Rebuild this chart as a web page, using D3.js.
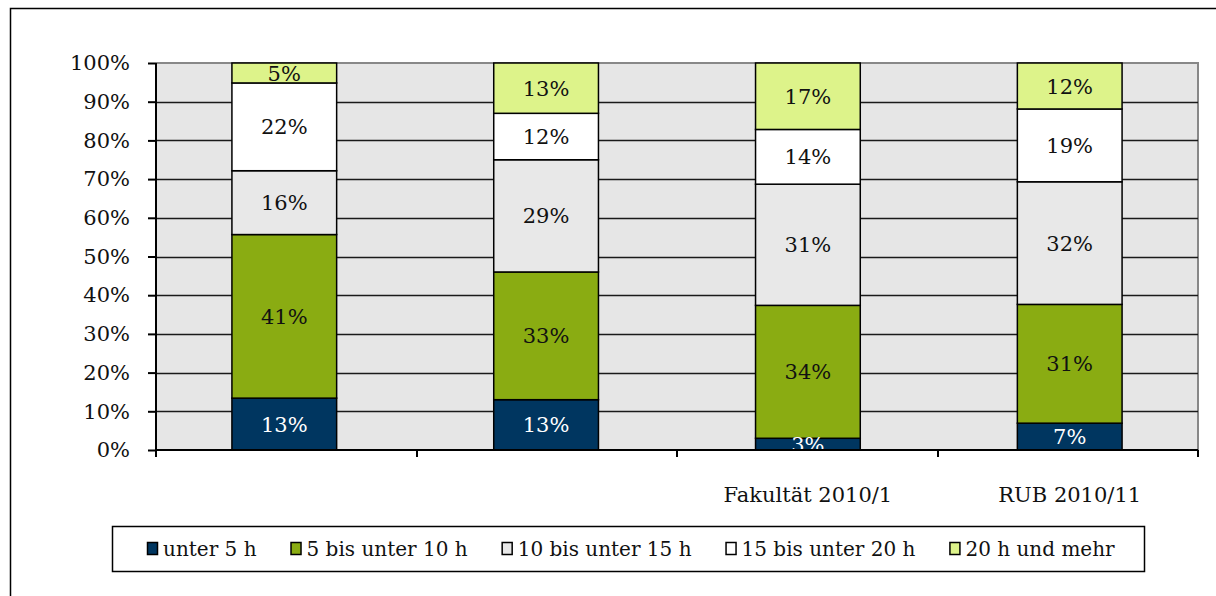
<!DOCTYPE html>
<html>
	<head>
		<script src="https://d3js.org/d3.v7.min.js"></script>
		<style type="text/css">
			body { margin: 0; background: #fff; }
			svg text { font-family: "DejaVu Serif", serif; font-size: 21px; fill: #111; }
			svg .legend text { font-size: 20px; }
		</style>
	</head>
	<body>
		<script type="text/javascript">
			var categories = ["", " ", "Fakultät 2010/1", "RUB 2010/11"];
			var seriesNames = ["unter 5 h", "5 bis unter 10 h", "10 bis unter 15 h", "15 bis unter 20 h", "20 h und mehr"];
			var seriesColors = ["#003660", "#8AAC12", "#E8E8E8", "#FFFFFF", "#DDF38A"];
			var under5 = [13, 13, 3, 7];
			var from5to10 = [41, 33, 34, 31];
			var from10to15 = [16, 29, 31, 32];
			var from15to20 = [22, 12, 14, 19];
			var over20 = [5, 13, 17, 12];
			var yTicks = [0, 0.1, 0.2, 0.3, 0.4, 0.5, 0.6, 0.7, 0.8, 0.9, 1];

			var W = 1216, H = 596;
			var plot = { left: 156, right: 1198, top: 63, bottom: 450 };

			var rows = categories.map(function (c, i) {
				return {
					cat: c,
					"unter 5 h": under5[i],
					"5 bis unter 10 h": from5to10[i],
					"10 bis unter 15 h": from10to15[i],
					"15 bis unter 20 h": from15to20[i],
					"20 h und mehr": over20[i]
				};
			});

			var stacked = d3.stack().keys(seriesNames).offset(d3.stackOffsetExpand)(rows);

			var x = d3.scaleBand().domain(categories)
				.range([plot.left, plot.right]).paddingInner(0.6).paddingOuter(0.29);
			var y = d3.scaleLinear().domain([0, 1]).range([plot.bottom, plot.top]);
			var color = d3.scaleOrdinal().domain(seriesNames).range(seriesColors);

			var svg = d3.select("body").append("svg")
				.attr("width", W).attr("height", H);

			// outer chart frame (cut off at right and bottom)
			svg.append("rect")
				.attr("x", 10.5).attr("y", 8.5)
				.attr("width", W + 20).attr("height", H + 20)
				.attr("fill", "none").attr("stroke", "#000").attr("stroke-width", 1.5);

			svg.append("clipPath").attr("id", "plotclip")
				.append("rect")
				.attr("x", plot.left).attr("y", plot.top - 2)
				.attr("width", plot.right - plot.left).attr("height", plot.bottom - plot.top + 2);

			// plot background
			svg.append("rect")
				.attr("x", plot.left).attr("y", plot.top)
				.attr("width", plot.right - plot.left).attr("height", plot.bottom - plot.top)
				.attr("fill", "#E6E6E6");
			svg.append("path")
				.attr("d", "M" + plot.left + "," + plot.top + "H" + plot.right + "V" + plot.bottom)
				.attr("fill", "none").attr("stroke", "#888").attr("stroke-width", 2);

			// gridlines
			svg.append("g").selectAll("line")
				.data(yTicks.filter(function (t) { return t > 0 && t < 1; }))
				.enter().append("line")
				.attr("x1", plot.left).attr("x2", plot.right)
				.attr("y1", function (d) { return Math.round(y(d)) + 0.5; })
				.attr("y2", function (d) { return Math.round(y(d)) + 0.5; })
				.attr("stroke", "#1a1a1a").attr("stroke-width", 1.5);

			// bars
			var layer = svg.append("g").selectAll("g")
				.data(stacked)
				.enter().append("g")
				.attr("fill", function (d) { return color(d.key); });

			layer.selectAll("rect")
				.data(function (d) { return d; })
				.enter().append("rect")
				.attr("x", function (d) { return x(d.data.cat); })
				.attr("width", x.bandwidth())
				.attr("y", function (d) { return y(d[1]); })
				.attr("height", function (d) { return y(d[0]) - y(d[1]); })
				.attr("stroke", "#000").attr("stroke-width", 1.5);

			// data labels
			var labels = svg.append("g").attr("clip-path", "url(#plotclip)");
			stacked.forEach(function (s, si) {
				labels.selectAll(".l" + si)
					.data(s)
					.enter().append("text")
					.attr("x", function (d) { return x(d.data.cat) + x.bandwidth() / 2; })
					.attr("y", function (d) { return (y(d[0]) + y(d[1])) / 2; })
					.attr("text-anchor", "middle")
					.attr("dy", "0.36em")
					.style("fill", si === 0 ? "#fff" : "#111")
					.text(function (d) { return d.data[s.key] + "%"; });
			});

			// y axis
			var yAxis = svg.append("g")
				.attr("transform", "translate(" + plot.left + ",0)")
				.call(d3.axisLeft(y).tickValues(yTicks).tickFormat(d3.format(".0%")).tickSize(8).tickPadding(18));
			yAxis.select(".domain").attr("stroke-width", 2).attr("d", "M0," + plot.top + "V" + (plot.bottom + 6));
			yAxis.selectAll(".tick line").attr("stroke-width", 2);

			// x axis
			var bounds = d3.range(categories.length + 1).map(function (i) {
				return plot.left + i * (plot.right - plot.left) / categories.length;
			});
			var xAxis = svg.append("g");
			xAxis.append("line")
				.attr("x1", plot.left).attr("x2", plot.right)
				.attr("y1", plot.bottom).attr("y2", plot.bottom)
				.attr("stroke", "#000").attr("stroke-width", 2);
			xAxis.selectAll(".xt")
				.data(bounds)
				.enter().append("line")
				.attr("x1", function (d) { return Math.round(d); })
				.attr("x2", function (d) { return Math.round(d); })
				.attr("y1", plot.bottom).attr("y2", plot.bottom + 7)
				.attr("stroke", "#000").attr("stroke-width", 2);
			xAxis.selectAll(".cat")
				.data(categories)
				.enter().append("text")
				.attr("x", function (d) { return x(d) + x.bandwidth() / 2; })
				.attr("y", 502)
				.attr("text-anchor", "middle")
				.text(function (d) { return d; });

			// legend
			var legend = svg.append("g").attr("class", "legend");
			legend.append("rect")
				.attr("x", 112.5).attr("y", 526.5)
				.attr("width", 1032).attr("height", 45)
				.attr("fill", "#fff").attr("stroke", "#000").attr("stroke-width", 1.5);
			var lx = 147;
			seriesNames.forEach(function (name) {
				legend.append("rect")
					.attr("x", lx + 0.5).attr("y", 542.5)
					.attr("width", 10).attr("height", 12)
					.attr("fill", color(name)).attr("stroke", "#000").attr("stroke-width", 1.5);
				var t = legend.append("text")
					.attr("x", lx + 16).attr("y", 556)
					.text(name);
				lx += 16 + t.node().getComputedTextLength() + 34;
			});
		</script>
	</body>
</html>
